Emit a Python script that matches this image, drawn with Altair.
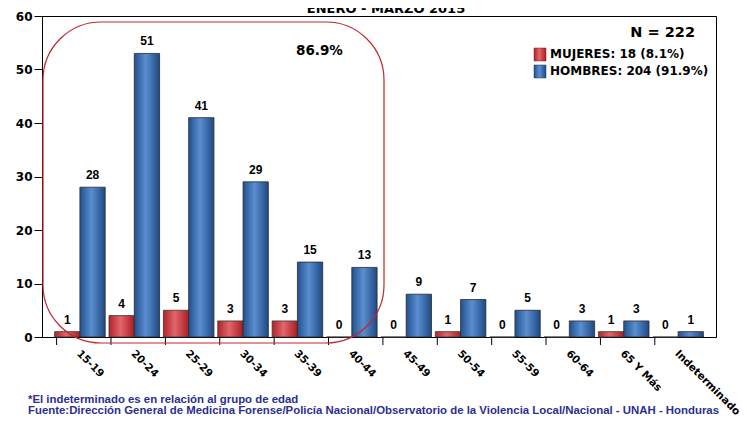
import altair as alt
import pandas as pd

# ---- data ----
categorias = ["15-19", "20-24", "25-29", "30-34", "35-39", "40-44",
              "45-49", "50-54", "55-59", "60-64", "65 Y Más", "Indeterminado"]
mujeres = [1, 4, 5, 3, 3, 0, 0, 1, 0, 0, 1, 0]
hombres = [28, 51, 41, 29, 15, 13, 9, 7, 5, 3, 3, 1]
# bar heights as they are drawn in the picture (labels above are the values)
mujeres_barra = [1, 4, 5, 3, 3, 0, 0, 1, 0, 0, 1, 0]
hombres_barra = [28, 53, 41, 29, 14, 13, 8, 7, 5, 3, 3, 1]
y_ticks = [0, 10, 20, 30, 40, 50, 60]

titulo = "ENERO - MARZO 2015"
total_txt = "N = 222"
leyenda_m = "MUJERES: 18 (8.1%)"
leyenda_h = "HOMBRES: 204 (91.9%)"
porcentaje = "86.9%"
nota1 = "*El indeterminado es en relación al grupo de edad"
nota2 = ("Fuente:Dirección General de Medicina Forense/Policía Nacional/"
         "Observatorio de la Violencia Local/Nacional - UNAH - Honduras")

rows = []
for c, m, h, mb, hb in zip(categorias, mujeres, hombres, mujeres_barra, hombres_barra):
    rows.append({"cat": c, "sexo": "M", "valor": m, "barra": mb})
    rows.append({"cat": c, "sexo": "H", "valor": h, "barra": hb})
df = pd.DataFrame(rows)
df_cat = pd.DataFrame({"cat": categorias})
one = pd.DataFrame({"k": [0]})

W, H = 674, 321

def grad(c_edge, c_mid, c_edge2):
    return alt.LinearGradient(
        gradient="linear", x1=0, x2=1, y1=0, y2=0,
        stops=[alt.GradientStop(color=c_edge, offset=0),
               alt.GradientStop(color=c_mid, offset=0.45),
               alt.GradientStop(color=c_edge2, offset=1)])

red_grad = grad("#b0232a", "#e2666b", "#a81e24")
blue_grad = grad("#23508e", "#5a8ed0", "#1f4984")

x_enc = alt.X("cat:N", sort=categorias,
              scale=alt.Scale(domain=categorias, paddingInner=0.07, paddingOuter=0.232),
              axis=alt.Axis(title=None, labelAngle=45, labelAlign="left", labelBaseline="top",
                            labelFont="DejaVu Sans", labelFontWeight="bold", labelFontSize=10.5,
                            labelColor="black", ticks=True, tickSize=8, tickColor="transparent",
                            labelPadding=3, labelOffset=2, domainColor="black",
                            labelOverlap=False))
xo_enc = alt.XOffset("sexo:N", scale=alt.Scale(domain=["M", "H"]))
y_enc = alt.Y("barra:Q", scale=alt.Scale(domain=[0, 60]),
              axis=alt.Axis(values=y_ticks, title=None, grid=False,
                            labelFont="DejaVu Sans", labelFontWeight="bold", labelFontSize=12,
                            labelColor="black", tickSize=8, tickColor="black",
                            domainColor="black", labelPadding=2))

base = alt.Chart(df)

bars_m = base.transform_filter("datum.sexo == 'M'").mark_bar(
    fill=red_grad, stroke="#3a3a3a", strokeWidth=0.8).encode(x=x_enc, xOffset=xo_enc, y=y_enc)
bars_h = base.transform_filter("datum.sexo == 'H'").mark_bar(
    fill=blue_grad, stroke="#2a2a2a", strokeWidth=0.8).encode(x=x_enc, xOffset=xo_enc, y=y_enc)

labels = base.mark_text(font="Liberation Sans", fontWeight="bold", fontSize=12,
                        dy=-8, baseline="alphabetic", color="black").encode(
    x=x_enc, xOffset=xo_enc, y=y_enc, text="valor:Q")

ticks = alt.Chart(df_cat).mark_rule(color="black", strokeWidth=1).encode(
    x=alt.X("cat:N", sort=categorias, bandPosition=1),
    xOffset=alt.value(2),
    y=alt.value(H), y2=alt.value(H + 8))

annot = alt.Chart(one).mark_rect(fill=None, fillOpacity=0, stroke="#c0282d", strokeWidth=1.2,
                                 cornerRadius=58).encode(
    x=alt.value(1), x2=alt.value(342), y=alt.value(6), y2=alt.value(327))

def txt(text, x, y, size, align="left", font="DejaVu Sans", color="black"):
    return alt.Chart(one).mark_text(text=text, font=font, fontWeight="bold", fontSize=size,
                                    align=align, baseline="alphabetic", color=color).encode(
        x=alt.value(x), y=alt.value(y))

leg_m = alt.Chart(one).mark_rect(fill=red_grad, stroke="#8a1a1a", strokeWidth=0.5).encode(
    x=alt.value(492), x2=alt.value(504), y=alt.value(32), y2=alt.value(45))
leg_h = alt.Chart(one).mark_rect(fill=blue_grad, stroke="#1a3a6a", strokeWidth=0.5).encode(
    x=alt.value(492), x2=alt.value(504), y=alt.value(49), y2=alt.value(62))

navy = "#2b2f8f"
chart = alt.layer(
    bars_m, bars_h, labels, ticks, annot,
    leg_m, leg_h,
    txt(leyenda_m, 508, 42, 12),
    txt(leyenda_h, 508, 59, 12),
    txt(total_txt, 653, 20.5, 14.5, align="right"),
    txt(porcentaje, 254, 38.5, 13.5),
    txt(titulo, 344, -3, 13, align="center"),
    txt(nota1, -14, 387, 11.4, font="Liberation Sans", color=navy),
    txt(nota2, -14, 398, 11.4, font="Liberation Sans", color=navy),
).properties(
    width=W, height=H,
    autosize=alt.AutoSizeParams(type="none"),
    padding={"left": 34, "top": 8, "right": 23, "bottom": 79},
    background="white",
).configure_view(stroke="black", strokeWidth=1)

chart.save("out.html", embed_options={"renderer": "svg", "actions": False})
